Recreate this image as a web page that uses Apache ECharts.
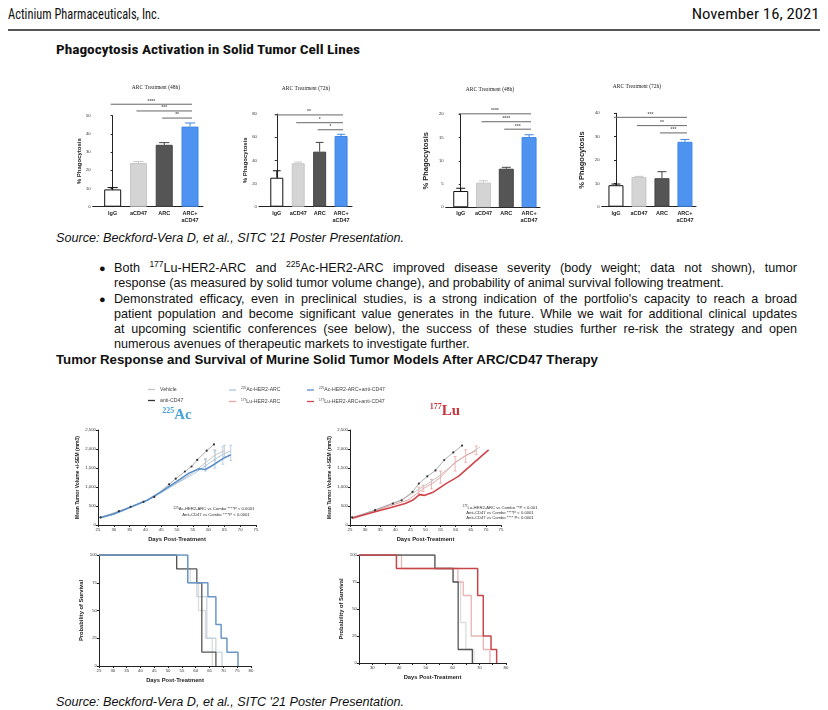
<!DOCTYPE html>
<html><head><meta charset="utf-8">
<script src="https://cdn.jsdelivr.net/npm/echarts@6/dist/echarts.min.js"></script>
<style>
body{margin:0;background:#fff;}
#page{position:relative;width:828px;height:710px;overflow:hidden;font-family:"Liberation Sans",Arial,sans-serif;color:#111;background:#fff;}
.abs{position:absolute;white-space:nowrap;}
.narrow{font-family:"Liberation Sans Narrow","Arial Narrow","Roboto Condensed",sans-serif;}
#chart{position:absolute;left:0;top:0;width:828px;height:710px;}
.jl{position:absolute;left:114px;width:683px;font-size:12.6px;line-height:15px;white-space:nowrap;}
.just{text-align:justify;text-align-last:justify;white-space:normal;}
sup{font-size:8.5px;line-height:0;vertical-align:5px;}
.bul{position:absolute;left:99px;font-size:11px;line-height:15px;}
.src{font-style:italic;font-size:12px;left:56px;}
</style></head>
<body><div id="page">
<div class="abs narrow" id="hl" style="left:8px;top:6px;font-size:15px;line-height:16px;">Actinium Pharmaceuticals, Inc.</div>
<div class="abs narrow" id="hr" style="right:8px;top:6px;font-size:15px;line-height:16px;">November 16, 2021</div>
<div class="abs" style="left:8px;top:29px;width:812px;height:2px;background:#555;"></div>
<div class="abs narrow" id="t1" style="left:56px;top:43px;font-size:13px;line-height:14px;font-weight:bold;">Phagocytosis Activation in Solid Tumor Cell Lines</div>
<div class="abs src" id="s1" style="top:231px;line-height:14px;">Source: Beckford-Vera D, et al., SITC '21 Poster Presentation.</div>
<div class="bul" style="top:261px;">●</div>
<div class="jl just" style="top:261px;">Both <sup>177</sup>Lu-HER2-ARC and <sup>225</sup>Ac-HER2-ARC improved disease severity (body weight; data not shown), tumor</div>
<div class="jl" style="top:276px;">response (as measured by solid tumor volume change), and probability of animal survival following treatment.</div>
<div class="bul" style="top:292px;">●</div>
<div class="jl just" style="top:292px;">Demonstrated efficacy, even in preclinical studies, is a strong indication of the portfolio's capacity to reach a broad</div>
<div class="jl just" style="top:307px;">patient population and become significant value generates in the future. While we wait for additional clinical updates</div>
<div class="jl just" style="top:322px;">at upcoming scientific conferences (see below), the success of these studies further re-risk the strategy and open</div>
<div class="jl" style="top:337px;">numerous avenues of therapeutic markets to investigate further.</div>
<div class="abs" id="t2" style="left:56px;top:353px;font-size:12.4px;line-height:15px;font-weight:bold;">Tumor Response and Survival of Murine Solid Tumor Models After ARC/CD47 Therapy</div>
<div class="abs src" id="s2" style="top:695px;line-height:14px;">Source: Beckford-Vera D, et al., SITC '21 Poster Presentation.</div>
<div id="chart"></div>
</div>
<script>
// ---------- DATA ----------
const barCategories = ['IgG', 'aCD47', 'ARC', 'ARC+\naCD47'];
const barTitles = ['ARC Treatment (48h)', 'ARC Treatment (72h)', 'ARC Treatment (48h)', 'ARC Treatment (72h)'];
const phago1 = [9.5, 24, 34, 44];
const phago1Err = [1, 0.8, 1.2, 2];
const phago1Sig = [[0, 3], [1, 3], [2, 3]];
const phago1SigText = ['****', '***', '**'];
const phago2 = [25, 37.5, 47.5, 61];
const phago2Err = [6, 1, 8, 1.5];
const phago2Sig = [[0, 3], [1, 3], [2, 3]];
const phago2SigText = ['**', '*', '*'];
const phago3 = [3.5, 5.3, 8.3, 15.1];
const phago3Err = [0.6, 0.4, 0.3, 0.5];
const phago3Sig = [[0, 3], [1, 3], [2, 3]];
const phago3SigText = ['****', '****', '***'];
const phago4 = [9.2, 12.7, 12.2, 27.8];
const phago4Err = [0.5, 0.3, 2.8, 1];
const phago4Sig = [[0, 3], [1, 3], [2, 3]];
const phago4SigText = ['***', '**', '***'];

const legendNames = ['Vehicle', 'anti-CD47', '225Ac-HER2-ARC', '177Lu-HER2-ARC', '225Ac-HER2-ARC+anti-CD47', '177Lu-HER2-ARC+anti-CD47'];

// 225Ac tumour volume (day, mm3)
const acVehicle = [[26,190],[29,270],[32,360],[35,460],[38,570],[41,670],[44,800],[47,960],[50,1110],[53,1270],[56,1440],[59,1640],[62,1840],[65,1960]];
const acAntiCD47 = [[25.8,200],[31.6,365],[35.3,477],[39.4,608],[42.8,740],[47.5,1070],[49.6,1218],[52.5,1408],[54.6,1540],[56.4,1713],[59.4,1956],[61.7,2120]];
const acArc = [[26,190],[30,280],[35,450],[40,630],[45,850],[50,1100],[55,1330],[59,1560],[62,1730],[65,1880],[67,1950]];
const acCombo = [[25.5,190],[30,290],[35,460],[40.6,650],[44.9,870],[49.6,1130],[53.8,1365],[57,1480],[59,1460],[61.2,1565],[64.4,1740],[67,1850]];
const acArcErr = [[59,1420,1720],[62,1500,1960],[64.5,1600,2060],[67,1700,2100]];
const acVehicleErr = [[59,1550,1750],[62,1700,1980],[65,1800,2100]];
// 177Lu tumour volume
const luVehicle = [[26,190],[30,300],[34,420],[38,540],[42,660],[46,850],[50,1050],[54,1260],[58,1520],[62,1760],[66,1950],[68,2050]];
const luAntiCD47 = [[25.7,200],[33.3,390],[39.2,565],[42.1,650],[45.7,870],[47.8,1090],[50.6,1280],[53.3,1435],[56.2,1710],[59.2,1910],[62.1,2090]];
const luArc = [[26,190],[32,330],[38,500],[44,650],[47,820],[49.2,957],[52,1080],[55,1260],[59.8,1650],[63.3,1825],[66.8,1955]];
const luCombo = [[25.7,180],[33.3,350],[38.6,460],[43.3,565],[45.7,650],[48,800],[49.8,780],[52.7,870],[56.8,1090],[60.9,1280],[65.6,1610],[70.9,1975]];
const luArcErr = [[47.8,820,1000],[49.2,880,1050],[52,950,1200],[55,1100,1420],[59.8,1420,1800],[63.3,1650,1980],[66.8,1850,2080]];

// survival (day, %)
const survAcVehicle = [[25,100],[53.1,87.5],[58,75],[61,50],[63.5,25],[66,0]];
const survAcAnti = [[25,100],[53.1,87.5],[60.4,75],[62.2,12.5],[67.3,0]];
const survAcArc = [[25,100],[57.1,75],[60.4,62.5],[64,25],[67.3,12.5],[69.5,0]];
const survAcCombo = [[25,100],[57.1,75],[64.4,62.5],[67.3,37.5],[69.2,25],[71.3,12.5],[75.3,0]];
const survLuVehicle = [[25,100],[53.4,87.5],[60,75],[63,37.5],[65,12.5],[68,0]];
const survLuAnti = [[25,100],[53.4,87.5],[60.2,75],[62.1,12.5],[67.4,0]];
const survLuArc = [[25,100],[40.9,87.5],[62,75],[64,62.5],[67,25],[71.5,12.5],[74,0]];
const survLuCombo = [[25,100],[39,87.5],[69.4,62.5],[71.5,25],[74.4,12.5],[76.5,0]];

// ---------- STYLE / LAYOUT ----------
const barFill = ['#ffffff', '#d4d4d4', '#555555', '#4d93ef'];
const barEdge = ['#111111', '#c8c8c8', '#444444', '#3f86e6'];
const C = {vehicle:'#c4c4c4', anti:'#6b6b6b', acArc:'#a9c6de', acCombo:'#5a8fcb', luArc:'#eba3a3', luCombo:'#d2444a'};

const grids = [], xAxes = [], yAxes = [], series = [], graphics = [];
const tickFont = {fontSize: 4.3, color: '#333', fontFamily: 'Liberation Sans, Arial'};

function errRender(color, cap, lw, bothCaps){
  return function(params, api){
    const p1 = api.coord([api.value(0), api.value(1)]);
    const p2 = api.coord([api.value(0), api.value(2)]);
    const ch = [{type:'line', shape:{x1:p1[0],y1:p1[1],x2:p2[0],y2:p2[1]}, style:{stroke:color,lineWidth:lw}},
                {type:'line', shape:{x1:p2[0]-cap,y1:p2[1],x2:p2[0]+cap,y2:p2[1]}, style:{stroke:color,lineWidth:lw}}];
    if (bothCaps) ch.push({type:'line', shape:{x1:p1[0]-cap,y1:p1[1],x2:p1[0]+cap,y2:p1[1]}, style:{stroke:color,lineWidth:lw}});
    return {type:'group', children: ch};
  };
}

function barChart(cfg, vals, errs, sig, sigText, title){
  const gi = grids.length;
  grids.push({left: cfg.left, top: cfg.top, width: cfg.width, height: cfg.height});
  xAxes.push({gridIndex: gi, type:'value', min: cfg.xmin, max: cfg.xmax, splitLine:{show:false},
    axisLine:{show:true, onZero:false, lineStyle:{color:'#222', width:1}}, axisTick:{show:false},
    axisLabel:{customValues:[0,1,2,3], formatter: v => barCategories[v], fontSize: 5.5, fontWeight:'bold',
      color:'#222', margin:3, lineHeight:7, fontFamily:'Liberation Sans, Arial'}});
  yAxes.push({gridIndex: gi, type:'value', min:0, max: cfg.max, interval: cfg.interval, splitLine:{show:false},
    axisLine:{show:true, lineStyle:{color:'#222', width:1}}, axisTick:{show:true, length:2, lineStyle:{color:'#222'}},
    axisLabel:Object.assign({margin:2}, tickFont),
    name:'% Phagocytosis', nameLocation:'middle', nameRotate:90, nameGap: cfg.nameGap,
    nameTextStyle:{fontSize: cfg.nameSize, fontWeight:'bold', color:'#222', fontFamily:'Liberation Sans, Arial'}});
  series.push({type:'bar', xAxisIndex:gi, yAxisIndex:gi, barWidth: cfg.barWidth, silent:true,
    data: vals.map((v,i) => ({value:[i, v], itemStyle:{color: barFill[i], borderColor: barEdge[i], borderWidth: 1}}))});
  series.push({type:'custom', xAxisIndex:gi, yAxisIndex:gi, silent:true, encode:{x:0, y:[1,2]},
    renderItem: function(params, api){
      const i = params.dataIndex;
      const col = i === 0 ? '#111' : barEdge[i];
      return errRender(col, cfg.barWidth*0.3, 1, false)(params, api);
    },
    data: vals.map((v,i) => [i, v, v + errs[i]])});
  series.push({type:'custom', xAxisIndex:gi, yAxisIndex:gi, silent:true, clip:false, encode:{x:[0,1]},
    renderItem: function(params, api){
      const i = params.dataIndex;
      const lv = cfg.sigLevels[i] * cfg.max;
      const a = api.coord([api.value(0), lv]), b = api.coord([api.value(1), lv]);
      return {type:'group', children:[
        {type:'line', shape:{x1:a[0]-2,y1:a[1],x2:b[0]+2,y2:b[1]}, style:{stroke:'#666', lineWidth:1}},
        {type:'text', x:(a[0]+b[0])/2, y:a[1]-0.5, style:{text: sigText[i], align:'center', verticalAlign:'bottom',
          font:'bold 5px Liberation Sans, Arial', fill:'#666'}}]};
    },
    data: sig});
  graphics.push({type:'text', x: cfg.titleX, y: cfg.titleY, style:{text: title, align:'center', verticalAlign:'middle',
    font:'5.5px Liberation Serif, Times New Roman, serif', fill:'#222'}});
}

barChart({left:92.7, top:115.7, width:110.3, height:91, xmin:-0.775, xmax:3.504, max:50, interval:10, barWidth:17,
  nameGap:10, nameSize:6, sigLevels:[1.126,1.052,0.974], titleX:156, titleY:88}, phago1, phago1Err, phago1Sig, phago1SigText, barTitles[0]);
barChart({left:259, top:114, width:93, height:92.7, xmin:-0.83, xmax:3.51, max:80, interval:20, barWidth:13,
  nameGap:11, nameSize:6, sigLevels:[0.99,0.906,0.83], titleX:306, titleY:89}, phago2, phago2Err, phago2Sig, phago2SigText, barTitles[1]);
barChart({left:445.7, top:114.3, width:94.3, height:93, xmin:-0.66, xmax:3.48, max:20, interval:5, barWidth:15,
  nameGap:16, nameSize:7.5, sigLevels:[1.005,0.92,0.84], titleX:490, titleY:90}, phago3, phago3Err, phago3Sig, phago3SigText, barTitles[2]);
barChart({left:601.7, top:113.3, width:94.3, height:93.4, xmin:-0.62, xmax:3.48, max:40, interval:10, barWidth:15,
  nameGap:16, nameSize:7.5, sigLevels:[0.957,0.868,0.79], titleX:637, titleY:87}, phago4, phago4Err, phago4Sig, phago4SigText, barTitles[3]);

function xyGrid(cfg){
  const gi = grids.length;
  grids.push({left: cfg.left, top: cfg.top, width: cfg.width, height: cfg.height});
  xAxes.push({gridIndex:gi, type:'value', min:cfg.xmin, max:cfg.xmax, interval:5, splitLine:{show:false},
    axisLine:{show:true, onZero:false, lineStyle:{color:'#222', width:1}}, axisTick:{show:true, length:2, lineStyle:{color:'#222'}},
    axisLabel:Object.assign({margin:3, formatter: cfg.xfmt || (v => v)}, tickFont),
    name:'Days Post-Treatment', nameLocation:'middle', nameGap: 11,
    nameTextStyle:{fontSize:5.8, fontWeight:'bold', color:'#222', fontFamily:'Liberation Sans, Arial'}});
  yAxes.push({gridIndex:gi, type:'value', min:0, max:cfg.ymax, interval:cfg.yint, splitLine:{show:false},
    axisLine:{show:true, lineStyle:{color:'#222', width:1}}, axisTick:{show:true, length:2, lineStyle:{color:'#222'}},
    axisLabel:Object.assign({margin:2}, tickFont),
    name: cfg.yname, nameLocation:'middle', nameRotate:90, nameGap: cfg.nameGap,
    nameTextStyle:{fontSize: cfg.nameSize, fontWeight:'bold', color:'#222', fontFamily:'Liberation Sans, Arial'}});
  return gi;
}
function line(gi, name, data, color, width, opts){
  series.push(Object.assign({type:'line', name, xAxisIndex:gi, yAxisIndex:gi, data, silent:true,
    showSymbol:false, symbol:'none', lineStyle:{color, width}, itemStyle:{color}}, opts || {}));
}
function errs(gi, data, color){
  series.push({type:'custom', xAxisIndex:gi, yAxisIndex:gi, silent:true, encode:{x:0, y:[1,2]},
    renderItem: errRender(color, 1.5, 0.8, true), data});
}

// tumour volume charts
const gA = xyGrid({left:98, top:430, width:158, height:95, xmin:25, xmax:75, ymax:2500, yint:500,
  yname:'Mean Tumor Volume +/-SEM (mm3)', nameGap:18, nameSize:5});
line(gA, 'Vehicle', acVehicle, C.vehicle, 1);
errs(gA, acVehicleErr, C.vehicle);
line(gA, '225Ac-HER2-ARC', acArc, C.acArc, 1);
errs(gA, acArcErr, C.acArc);
line(gA, 'anti-CD47', acAntiCD47, '#9a9a9a', 0.8, {showSymbol:true, symbol:'circle', symbolSize:2.2, itemStyle:{color:'#333'}});
line(gA, '225Ac-HER2-ARC+anti-CD47', acCombo, C.acCombo, 1.6);

const gB = xyGrid({left:350, top:430, width:151, height:95, xmin:25, xmax:75, ymax:2500, yint:500,
  yname:'Mean Tumor Volume +/-SEM (mm3)', nameGap:18, nameSize:5});
line(gB, 'Vehicle', luVehicle, C.vehicle, 1);
line(gB, '177Lu-HER2-ARC', luArc, C.luArc, 1);
errs(gB, luArcErr, C.luArc);
line(gB, 'anti-CD47', luAntiCD47, '#9a9a9a', 0.8, {showSymbol:true, symbol:'circle', symbolSize:2.2, itemStyle:{color:'#333'}});
line(gB, '177Lu-HER2-ARC+anti-CD47', luCombo, C.luCombo, 1.6);

// survival charts
const sA = xyGrid({left:99, top:555, width:152, height:111, xmin:25, xmax:80, ymax:100, yint:25,
  yname:'Probability of Survival', nameGap:15, nameSize:5.8});
line(sA, 'Vehicle', survAcVehicle, '#dcdcdc', 1.3, {step:'end'});
line(sA, '225Ac-HER2-ARC', survAcArc, '#c6d3df', 1.3, {step:'end'});
line(sA, 'anti-CD47', survAcAnti, '#555555', 1.3, {step:'end'});
line(sA, '225Ac-HER2-ARC+anti-CD47', survAcCombo, '#6b96c9', 1.5, {step:'end'});

const sB = xyGrid({left:359, top:555, width:147, height:108, xmin:25, xmax:80, ymax:100, yint:25,
  yname:'Probability of Survival', nameGap:15, nameSize:5.8, xfmt: v => (v % 10 === 0 ? v : '')});
line(sB, 'Vehicle', survLuVehicle, '#dcdcdc', 1.3, {step:'end'});
line(sB, '177Lu-HER2-ARC', survLuArc, '#e8b4b4', 1.3, {step:'end'});
line(sB, 'anti-CD47', survLuAnti, '#555555', 1.3, {step:'end'});
line(sB, '177Lu-HER2-ARC+anti-CD47', survLuCombo, '#c8454a', 1.5, {step:'end'});

// titles / annotations
const supRich = {s:{fontSize:8, fontWeight:'bold', verticalAlign:'top', lineHeight:16, fontFamily:'Liberation Serif, serif'},
                 b:{fontSize:15, fontWeight:'bold', lineHeight:16, fontFamily:'Liberation Serif, serif'}};
graphics.push({type:'text', x:177, y:415, style:{text:'{s|225}{b|Ac}', rich:supRich, fill:'#4aa3d6', align:'center', verticalAlign:'middle'}});
graphics.push({type:'text', x:445, y:411, style:{text:'{s|177}{b|Lu}', rich:supRich, fill:'#c9353c', align:'center', verticalAlign:'middle'}});
const annRich = {s:{fontSize:3, verticalAlign:'top', lineHeight:5}, t:{fontSize:4.2, lineHeight:5}};
graphics.push({type:'text', x:214, y:509, style:{text:'{s|225}{t|Ac-HER2-ARC vs Combo ****P < 0.0001}', rich:annRich, fill:'#333', align:'center', verticalAlign:'middle', fontFamily:'Liberation Serif, serif'}});
graphics.push({type:'text', x:216, y:514.5, style:{text:'{t|Anti-CD47 vs Combo ****P < 0.0001}', rich:annRich, fill:'#333', align:'center', verticalAlign:'middle', fontFamily:'Liberation Serif, serif'}});
graphics.push({type:'text', x:500, y:507.5, style:{text:'{s|177}{t|Lu-HER2-ARC vs Combo **P < 0.001}', rich:annRich, fill:'#333', align:'center', verticalAlign:'middle', fontFamily:'Liberation Serif, serif'}});
graphics.push({type:'text', x:500, y:512.8, style:{text:'{t|Anti-CD47 vs Combo ****P < 0.0001}', rich:annRich, fill:'#333', align:'center', verticalAlign:'middle', fontFamily:'Liberation Serif, serif'}});
graphics.push({type:'text', x:500, y:517.8, style:{text:'{t|Anti-CD47 vs Combo **** P< 0.0001}', rich:annRich, fill:'#333', align:'center', verticalAlign:'middle', fontFamily:'Liberation Serif, serif'}});

const legRich = {s:{fontSize:3.2, verticalAlign:'top', lineHeight:6, color:'#444'}, n:{fontSize:5.2, lineHeight:6, color:'#444'}};
function legendCol(left, names){
  return {orient:'vertical', left, top:382, itemGap:6, itemWidth:7, itemHeight:1.3, icon:'rect', selectedMode:false,
    data: names, textStyle:{rich: legRich, fontSize:5.2, color:'#444', padding:[0,0,0,0]},
    formatter: n => { const m = n.match(/^(\d+)(.*)$/); return m ? '{s|' + m[1] + '}{n|' + m[2] + '}' : '{n|' + n + '}'; }};
}

const chart = echarts.init(document.getElementById('chart'), null, {renderer:'canvas'});
chart.setOption({
  animation:false,
  backgroundColor:'transparent',
  grid: grids, xAxis: xAxes, yAxis: yAxes, series,
  legend: [legendCol(143, [legendNames[0], legendNames[1]]), legendCol(224, [legendNames[2], legendNames[3]]), legendCol(302, [legendNames[4], legendNames[5]])],
  graphic: graphics
});

// fit header text widths to the reference layout
function fit(id, w){ const el = document.getElementById(id); const r = w / el.getBoundingClientRect().width;
  el.style.transformOrigin = (el.style.right ? 'right' : 'left') + ' center'; el.style.transform = 'scaleX(' + r + ')'; }
fit('hl', 152); fit('hr', 128); fit('t1', 304); fit('t2', 542); fit('s1', 348); fit('s2', 348);
</script>
</body></html>
